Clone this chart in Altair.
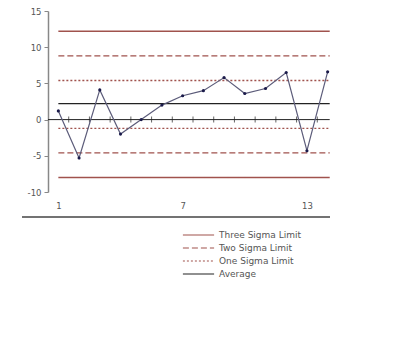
import altair as alt
import pandas as pd

# ---- data ----
samples = list(range(1, 15))
values = [1.2, -5.3, 4.1, -2.0, 0.0, 2.0, 3.3, 4.0, 5.8, 3.6, 4.3, 6.5, -4.3, 6.6]

limit_names = ["Three Sigma Limit", "Three Sigma Limit", "Two Sigma Limit", "Two Sigma Limit",
               "One Sigma Limit", "One Sigma Limit", "Average"]
limit_values = [12.2, -8.0, 8.8, -4.6, 5.4, -1.2, 2.2]
legend_order = ["Three Sigma Limit", "Two Sigma Limit", "One Sigma Limit", "Average"]
legend_colors = ["#a0524d", "#a0524d", "#a0524d", "#222222"]
legend_dashes = [[1, 0], [6, 3], [2, 2], [1, 0]]

x_labels = [1, 7, 13]
y_ticks = [-10, -5, 0, 5, 10, 15]
boundaries = [1.5, 2.5, 3.5, 4.5, 5.5, 6.5, 7.5, 8.5, 9.5, 10.5, 11.5, 12.5, 13.5]

pts = pd.DataFrame({"x": samples, "y": values})
lim = pd.DataFrame({"name": limit_names, "y": limit_values, "x": 1.0, "x2": 14.1})
zero = pd.DataFrame({"y": [0.0], "x": [0.5], "x2": [14.1]})
ticks = pd.DataFrame({"x": boundaries, "y": 0.0})

xs = alt.Scale(domain=[0.5, 14.5], nice=False, zero=False)
ys = alt.Scale(domain=[-10, 15], nice=False, zero=False)

xaxis = alt.Axis(values=x_labels, domain=False, ticks=False, grid=False, title=None,
                 labelPadding=9, labelFontSize=8.5, labelColor="#555555", labelFont="DejaVu Sans")
yaxis = alt.Axis(values=y_ticks, grid=False, title=None, domainColor="#888888", domainWidth=1.5,
                 tickColor="#888888", tickSize=4, labelPadding=3, labelFontSize=8.5,
                 labelOverlap=False, labelExpr="'' + datum.value",
                 labelColor="#555555", labelFont="DejaVu Sans")

X = alt.X("x:Q", scale=xs, axis=xaxis)
Y = alt.Y("y:Q", scale=ys, axis=yaxis)

limits = alt.Chart(lim).mark_rule(strokeWidth=1.3).encode(
    x=X, x2="x2:Q", y=Y,
    color=alt.Color("name:N", scale=alt.Scale(domain=legend_order, range=legend_colors),
                    legend=alt.Legend(title=None, orient="none", legendX=145.5, legendY=219,
                                      symbolType="M-3.9,0H3.9", symbolSize=64, symbolStrokeWidth=1.2,
                                      rowPadding=3, labelFontSize=9, labelFont="DejaVu Sans",
                                      labelColor="#555555", labelOffset=15.5, padding=0)),
    strokeDash=alt.StrokeDash("name:N", scale=alt.Scale(domain=legend_order, range=legend_dashes),
                              legend=None),
)

zero_line = alt.Chart(zero).mark_rule(color="#222222", strokeWidth=1).encode(
    x=X, x2="x2:Q", y=Y
)

tick_marks = alt.Chart(ticks).mark_tick(color="#222222", orient="vertical", size=6, thickness=1).encode(
    x=X, y=Y
)

line = alt.Chart(pts).mark_line(color="#5c5c7a", strokeWidth=1.2).encode(x=X, y=Y)
dots = alt.Chart(pts).mark_point(filled=True, color="#1a1a4a", size=10, opacity=1).encode(x=X, y=Y)

sep = alt.Chart(pd.DataFrame({"a": [0]})).mark_rule(color="#444444", strokeWidth=1.3).encode(
    x=alt.value(-26), x2=alt.value(282), y=alt.value(206)
)

chart = alt.layer(limits, zero_line, tick_marks, line, dots, sep).properties(
    width=290, height=181,
    autosize=alt.AutoSizeParams(type="none"),
    padding={"left": 48, "top": 11, "right": 78, "bottom": 153},
).configure(background="white").configure_view(stroke=None)

chart.save("out.html", embed_options={"renderer": "svg", "actions": False})
